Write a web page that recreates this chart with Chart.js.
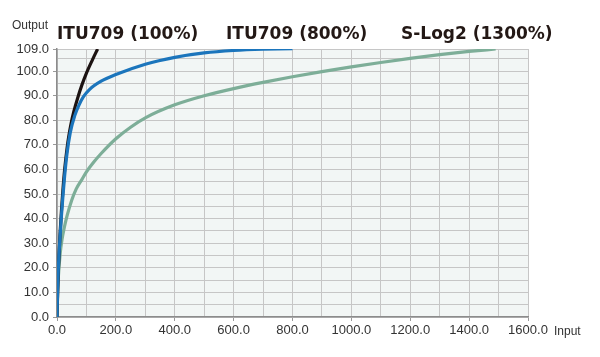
<!DOCTYPE html>
<html>
<head>
<meta charset="utf-8">
<script src="https://cdn.jsdelivr.net/npm/chart.js@4"></script>
<style>
html,body{margin:0;padding:0;background:#fff;}
#wrap{width:600px;height:357px;position:relative;}
</style>
</head>
<body>
<div id="wrap"><canvas id="c" width="600" height="357"></canvas></div>
<script>
// ---- data ----
const seriesNames = ['ITU709 (100%)', 'ITU709 (800%)', 'S-Log2 (1300%)'];

const itu100Input  = [0, 2, 5, 10, 15, 20, 26, 34, 40, 47, 57, 70, 85, 100, 120, 138];
const itu100Output = [0, 9, 20, 33, 43, 51.5, 60, 68.5, 73.5, 78.2, 83.5, 89, 94.5, 99.2, 104.5, 109];

const itu800Input  = [0, 2, 5, 10, 15, 20, 26, 34, 45, 60, 75, 90, 110, 150, 200, 300, 400, 500, 600, 700, 800];
const itu800Output = [0, 11, 21, 32, 41, 49, 57.5, 66.5, 75, 81.8, 86.3, 89.6, 92.5, 95.9, 98.6, 102.8, 105.6, 107.4, 108.4, 108.9, 109.1];

const slog2Input  = [0, 2, 5, 11, 17, 25, 35, 50, 65, 85, 100, 125, 150, 200, 250, 300, 400, 500, 600, 700, 800, 900, 1000, 1100, 1200, 1300, 1400, 1490];
const slog2Output = [0, 10, 17, 26, 31.5, 36.5, 41.5, 47.5, 52, 56, 59, 63, 66.5, 72.5, 77.2, 81, 86.3, 90, 92.9, 95.4, 97.7, 99.8, 101.7, 103.5, 105.2, 106.7, 108, 109];

const xTickLabels = ['0.0','200.0','400.0','600.0','800.0','1000.0','1200.0','1400.0','1600.0'];
const yTickLabels = ['0.0','10.0','20.0','30.0','40.0','50.0','60.0','70.0','80.0','90.0','100.0','109.0'];

const colors = ['#1c1312', '#1b75bc', '#7dae98'];

function pts(xs, ys){ return xs.map((x,i)=>({x:x, y:ys[i]})); }

const bgPlugin = {
  id:'bg',
  beforeDraw(chart){
    const {ctx, chartArea:a} = chart;
    ctx.save();
    ctx.fillStyle = '#f2f6f5';
    ctx.fillRect(a.left, a.top, a.right-a.left, a.bottom-a.top);
    ctx.restore();
  },
  afterDraw(chart){
    const ctx = chart.ctx;
    ctx.save();
    ctx.fillStyle = '#231815';
    ctx.textBaseline = 'alphabetic';
    ctx.font = 'bold 17px "DejaVu Sans"';
    ctx.textAlign = 'left';
    ctx.fillText(seriesNames[0], 57, 39);
    ctx.fillText(seriesNames[1], 226, 39);
    ctx.fillText(seriesNames[2], 401, 39);
    ctx.font = '12px "Liberation Sans"';
    ctx.fillStyle = '#333';
    ctx.textBaseline = 'middle';
    ctx.fillText('Output', 12, 26);
    ctx.fillText('Input', 554, 332);
    ctx.restore();
  }
};

new Chart(document.getElementById('c'), {
  type:'scatter',
  data:{
    datasets:[
      {label:seriesNames[0], data:pts(itu100Input, itu100Output), borderColor:colors[0], order:2},
      {label:seriesNames[1], data:pts(itu800Input, itu800Output), borderColor:colors[1], order:1},
      {label:seriesNames[2], data:pts(slog2Input, slog2Output), borderColor:colors[2], order:3}
    ].map(d=>Object.assign(d,{showLine:true, pointRadius:0, borderWidth:3.2, cubicInterpolationMode:'monotone', fill:false}))
  },
  options:{
    responsive:false,
    animation:false,
    devicePixelRatio:1,
    layout:{padding:{left:0, right:72, top:49, bottom:0}},
    plugins:{legend:{display:false}, tooltip:{enabled:false}},
    scales:{
      x:{
        type:'linear', min:0, max:1600,
        afterBuildTicks(s){ const t=[]; for(let v=0; v<=1600; v+=100) t.push({value:v}); s.ticks=t; },
        afterFit(s){ s.height = 40; },
        ticks:{
          autoSkip:false, maxRotation:0, padding:2,
          color:'#333', font:{family:'"Liberation Sans"', size:13},
          callback:(v)=> v%200===0 ? xTickLabels[v/200] : ''
        },
        grid:{color:'#c6c6c6', lineWidth:1, tickLength:4,
              tickColor:(c)=> (c.tick && c.tick.value%200===0) ? '#999' : 'rgba(0,0,0,0)'},
        border:{color:'#8c8c8c', width:1.5}
      },
      y:{
        type:'linear', min:0, max:109,
        afterBuildTicks(s){ const t=[]; for(let v=0; v<=105; v+=5) t.push({value:v}); t.push({value:109}); s.ticks=t; },
        afterFit(s){ s.width = 57; },
        ticks:{
          autoSkip:false, padding:4,
          color:'#333', font:{family:'"Liberation Sans"', size:13},
          callback:(v)=> v===109 ? yTickLabels[11] : (v%10===0 ? yTickLabels[v/10] : '')
        },
        grid:{color:'#c6c6c6', lineWidth:1, tickLength:4,
              tickColor:(c)=> (c.tick && (c.tick.value%10===0 || c.tick.value===109)) ? '#999' : 'rgba(0,0,0,0)'},
        border:{color:'#8c8c8c', width:1.5}
      }
    }
  },
  plugins:[bgPlugin]
});
</script>
</body>
</html>
